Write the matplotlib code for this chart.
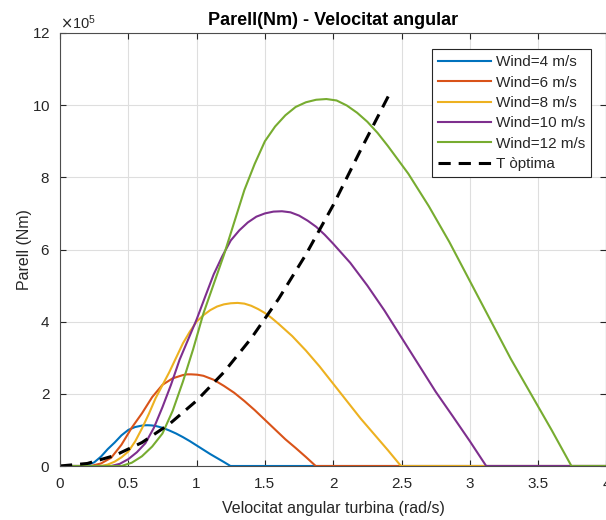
import matplotlib
matplotlib.use('Agg')
import matplotlib.pyplot as plt
from matplotlib.ticker import ScalarFormatter, FuncFormatter

plt.rcParams['font.family'] = ['Liberation Sans', 'DejaVu Sans']

# torque curves (units of 1e5 Nm), one per wind speed
x4 = [0, 0.15, 0.20, 0.25, 0.30, 0.35, 0.40, 0.45, 0.50, 0.55, 0.60, 0.62, 0.64, 0.67,
      0.70, 0.75, 0.80, 0.85, 0.90, 0.95, 1.00, 1.05, 1.10, 1.15, 1.20, 1.248, 4.0]
y4 = [0, 0, 0.03, 0.10, 0.26, 0.47, 0.65, 0.85, 1.00, 1.08, 1.12, 1.128, 1.13, 1.125,
      1.11, 1.06, 0.985, 0.90, 0.80, 0.69, 0.57, 0.45, 0.33, 0.22, 0.11, 0, 0]

x6 = [0, 0.225, 0.30, 0.375, 0.45, 0.525, 0.60, 0.675, 0.75, 0.825, 0.90, 0.93, 0.96, 1.005,
      1.05, 1.125, 1.20, 1.275, 1.35, 1.425, 1.50, 1.575, 1.65, 1.725, 1.80, 1.872, 4.0]
y6 = [0, 0, 0.07, 0.23, 0.59, 1.06, 1.46, 1.91, 2.25, 2.43, 2.52, 2.54, 2.54, 2.53,
      2.50, 2.39, 2.22, 2.03, 1.80, 1.55, 1.28, 1.01, 0.74, 0.50, 0.25, 0, 0]

x8 = [0, 0.30, 0.35, 0.40, 0.45, 0.50, 0.55, 0.60, 0.65, 0.70, 0.75, 0.80, 0.85, 0.90,
      0.95, 1.00, 1.05, 1.10, 1.15, 1.20, 1.25, 1.30, 1.35, 1.40, 1.45, 1.50, 1.55, 1.60,
      1.70, 1.80, 1.90, 2.00, 2.10, 2.20, 2.30, 2.40, 2.496, 4.0]
y8 = [0, 0, 0.04, 0.12, 0.24, 0.40, 0.68, 1.04, 1.44, 1.88, 2.24, 2.60, 3.00, 3.40,
      3.72, 4.00, 4.18, 4.32, 4.42, 4.48, 4.51, 4.52, 4.50, 4.44, 4.35, 4.24, 4.10, 3.94,
      3.60, 3.20, 2.76, 2.28, 1.80, 1.32, 0.88, 0.44, 0, 0]

x10 = [0, 0.375, 0.4375, 0.50, 0.5625, 0.625, 0.6875, 0.75, 0.8125, 0.875, 0.9375, 1.00,
       1.0625, 1.125, 1.1875, 1.25, 1.3125, 1.375, 1.4375, 1.50, 1.5625, 1.625, 1.6875,
       1.75, 1.8125, 1.875, 1.9375, 2.00, 2.125, 2.25, 2.375, 2.50, 2.625, 2.75, 2.875,
       3.00, 3.12, 4.0]
y10 = [0, 0, 0.06, 0.19, 0.38, 0.63, 1.06, 1.63, 2.25, 2.94, 3.50, 4.06,
       4.69, 5.31, 5.81, 6.25, 6.53, 6.75, 6.91, 7.00, 7.05, 7.06, 7.03,
       6.94, 6.80, 6.63, 6.41, 6.16, 5.63, 5.00, 4.31, 3.56, 2.81, 2.06, 1.38,
       0.69, 0, 0]

x12 = [0, 0.45, 0.525, 0.60, 0.675, 0.75, 0.825, 0.90, 0.975, 1.05, 1.125, 1.20, 1.275,
       1.35, 1.425, 1.50, 1.575, 1.65, 1.725, 1.80, 1.875, 1.95, 2.025, 2.10, 2.175, 2.25,
       2.325, 2.40, 2.55, 2.70, 2.85, 3.00, 3.15, 3.30, 3.45, 3.60, 3.744, 4.0]
y12 = [0, 0, 0.09, 0.27, 0.54, 0.90, 1.53, 2.34, 3.24, 4.23, 5.04, 5.85, 6.75,
       7.65, 8.37, 9.00, 9.41, 9.72, 9.95, 10.08, 10.15, 10.17, 10.13, 9.99, 9.79, 9.54,
       9.23, 8.87, 8.10, 7.20, 6.21, 5.13, 4.05, 2.97, 1.98, 0.99, 0, 0]

# optimum torque curve
x_opt = [0, 0.2, 0.4, 0.6, 0.8, 1.0, 1.2, 1.4, 1.6, 1.8, 2.0, 2.2, 2.42]
y_opt = [0, 0.07, 0.29, 0.65, 1.16, 1.81, 2.60, 3.54, 4.63, 5.86, 7.23, 8.75, 10.37]

labels = ['Wind=4 m/s', 'Wind=6 m/s', 'Wind=8 m/s', 'Wind=10 m/s', 'Wind=12 m/s']
colors = ['#0072BD', '#D95319', '#EDB120', '#7E2F8E', '#77AC30']
xs = [x4, x6, x8, x10, x12]
ys = [y4, y6, y8, y10, y12]

fig = plt.figure(figsize=(6.06, 5.2), dpi=100)
ax = fig.add_axes([60 / 606, 54 / 520, 546.4 / 606, 433 / 520])

for x, y, c, lab in zip(xs, ys, colors, labels):
    ax.plot(x, [v * 1e5 for v in y], color=c, lw=1.5, label=lab)
ax.plot(x_opt, [v * 1e5 for v in y_opt], color='black', lw=2.2,
        dashes=(4, 2.6), label='T òptima')

ax.set_xlim(0, 4)
ax.set_ylim(0, 12e5)
ax.set_xticks([0, 0.5, 1, 1.5, 2, 2.5, 3, 3.5, 4])
ax.set_yticks([0, 2e5, 4e5, 6e5, 8e5, 10e5, 12e5])
ax.xaxis.set_major_formatter(FuncFormatter(lambda v, p: '%g' % v))
fmt = ScalarFormatter(useMathText=True)
fmt.set_powerlimits((5, 5))
ax.yaxis.set_major_formatter(fmt)
ax.yaxis.get_offset_text().set_fontsize(10.5)
ax.yaxis.get_offset_text().set_color('#262626')

dark = '#262626'
ax.grid(True, color='#dedede', lw=0.8)
ax.set_axisbelow(True)
ax.tick_params(direction='in', length=4, width=0.8, colors=dark, labelsize=11,
               top=True, right=True)
ax.tick_params(axis='x', pad=8)
ax.tick_params(axis='y', pad=7)
for s in ax.spines.values():
    s.set_color('#4d4d4d')
    s.set_linewidth(0.8)

ax.set_title('Parell(Nm) - Velocitat angular', fontsize=13, fontweight='bold', pad=6)
ax.set_xlabel('Velocitat angular turbina (rad/s)', fontsize=11.5, color=dark, labelpad=7)
ax.set_ylabel('Parell (Nm)', fontsize=11.5, color=dark, labelpad=0)

leg = ax.legend(loc='upper right', bbox_to_anchor=(0.972, 0.963), borderaxespad=0,
                fancybox=False, framealpha=1, edgecolor=dark, fontsize=11,
                handlelength=3.5, labelspacing=0.42, borderpad=0.4, handletextpad=0.3)
leg.get_frame().set_linewidth(0.8)
for t in leg.get_texts():
    t.set_color(dark)

fig.savefig('out.png', dpi=100)
